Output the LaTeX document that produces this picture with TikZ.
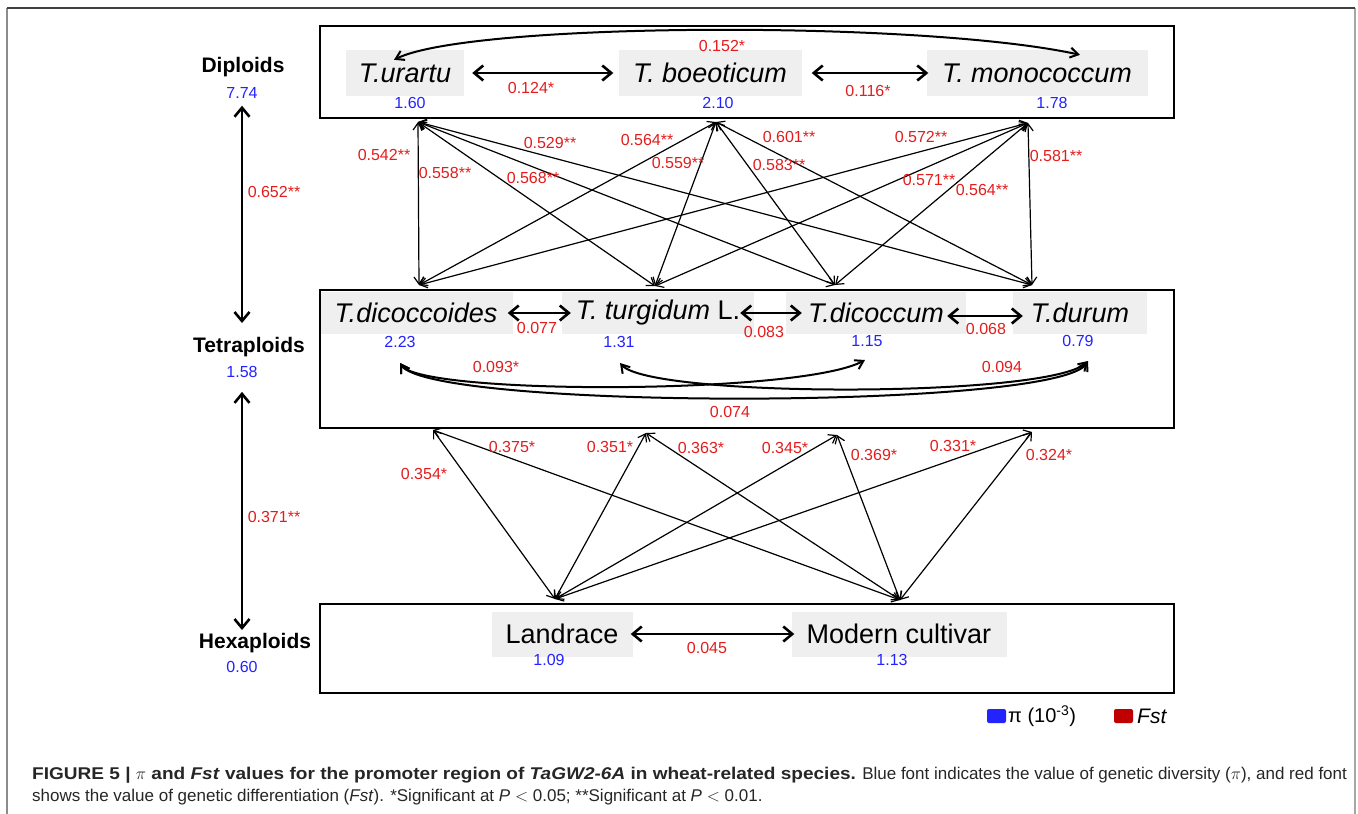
\documentclass[tikz,border=0pt]{standalone}
\usepackage{fontspec}
\setmainfont{Liberation Sans}
\usetikzlibrary{arrows.meta}

\definecolor{piblue}{RGB}{35,35,255}
\definecolor{fstred}{RGB}{228,28,28}
\definecolor{boxgray}{RGB}{239,239,239}
\definecolor{legred}{RGB}{192,0,0}

\begin{document}
\begin{tikzpicture}[x=1pt, y=-1pt,
  species/.style={fill=boxgray, inner sep=0pt, minimum height=46pt, font=\fontsize{27}{30}\selectfont\itshape},
  pival/.style={text=piblue, inner sep=0pt, font=\fontsize{16}{18}\selectfont},
  fstval/.style={text=fstred, inner sep=0pt, font=\fontsize{16}{18}\selectfont},
  ploidy/.style={inner sep=0pt, font=\fontsize{21}{24}\selectfont\bfseries},
  link/.style={line width=1.2pt, {Straight Barb[length=7pt,width=10pt]}-{Straight Barb[length=7pt,width=10pt]}},
  bigarrow/.style={line width=2.6pt, {Straight Barb[length=9pt,width=15pt]}-{Straight Barb[length=9pt,width=15pt]}},
  swoop/.style={line width=2pt, {Straight Barb[length=8pt,width=10pt]}-{Straight Barb[length=8pt,width=10pt]}},
  ploidybox/.style={line width=1.4pt},
  caption/.style={inner sep=0pt, text=black!85, font=\fontsize{17}{20}\selectfont}
]
\useasboundingbox (0,0) rectangle (1358,814);

% page frame
\draw[line width=1.5pt, black!45] (7,814) -- (7,8);
\draw[line width=1.5pt, black!35] (1355,8) -- (1355,814);
\draw[line width=2pt, black!75] (7,8) -- (1355,8);

% ploidy levels
\node[ploidy] (dipLab) at (243,67) {Diploids};
\node[pival] (dipPi) at (242,93) {7.74};
\node[ploidy] (tetLab) at (249,347) {Tetraploids};
\node[pival] (tetPi) at (242,372) {1.58};
\node[ploidy] (hexLab) at (255,643) {Hexaploids};
\node[pival] (hexPi) at (242,667) {0.60};

\draw[bigarrow, shorten <=7pt, shorten >=14pt] (dipPi.south) -- (dipPi.south |- tetLab.north);
\draw[bigarrow, shorten <=14pt, shorten >=3pt] (tetPi.south) -- (tetPi.south |- hexLab.north);
\node[fstval] at (274,192) {0.652**};
\node[fstval] at (274,517) {0.371**};

% diploids
\node[species, minimum width=118pt] (urartu) at (405,73) {T.urartu};
\node[species, minimum width=183pt] (boeoticum) at (710,73) {T. boeoticum};
\node[species, minimum width=221pt] (monococcum) at (1037,73) {T. monococcum};
\node[pival] (urPi) at (410,103) {1.60};
\node[pival] (boPi) at (718,103) {2.10};
\node[pival] (moPi) at (1052,103) {1.78};

% tetraploids
\node[species, minimum width=193pt, minimum height=42pt] (dicoccoides) at (416,313) {T.dicoccoides};
\node[species, minimum width=192pt, minimum height=42pt] (turgidum) at (658,313) {T. turgidum \upshape L.};
\node[species, minimum width=180pt, minimum height=42pt] (dicoccum) at (876,313) {T.dicoccum};
\node[species, minimum width=134pt, minimum height=42pt] (durum) at (1080,313) {T.durum};
\node[pival] (dicPi) at (400,342) {2.23};
\node[pival] (turPi) at (619,342) {1.31};
\node[pival] (dcmPi) at (867,341) {1.15};
\node[pival] (durPi) at (1078,341) {0.79};

% hexaploids
\node[species, minimum width=141pt, minimum height=45pt, font=\fontsize{27}{30}\selectfont] (landrace) at (562,634) {Landrace};
\node[species, minimum width=215pt, minimum height=45pt, font=\fontsize{27}{30}\selectfont] (modern) at (899,634) {Modern cultivar};
\node[pival] (lanPi) at (549,660) {1.09};
\node[pival] (modPi) at (892,660) {1.13};

% within-level arrows
\draw[bigarrow, shorten <=8pt, shorten >=5pt] (urartu.east) -- (boeoticum.west);
\draw[bigarrow, shorten <=10pt, shorten >=-2pt] (boeoticum.east) -- (monococcum.west);
\draw[bigarrow, shorten <=-5pt, shorten >=-9pt] (dicoccoides.east) -- (turgidum.west);
\draw[bigarrow, shorten <=-14pt, shorten >=-16pt] (turgidum.east) -- (dicoccum.west);
\draw[bigarrow, shorten <=-19pt, shorten >=-10pt] ([yshift=-3pt]dicoccum.east) -- ([yshift=-3pt]durum.west);
\draw[bigarrow, shorten <=-2pt, shorten >=-3pt] (landrace.east) -- (modern.west);
\node[fstval] at (531,88) {0.124*};
\node[fstval] at (868,91) {0.116*};
\node[fstval] at (537,328) {0.077};
\node[fstval] at (764,332) {0.083};
\node[fstval] at (986,329) {0.068};
\node[fstval] at (707,648) {0.045};

% curved arrows
\draw[swoop] ([xshift=-11pt, yshift=-10pt]urartu.north) .. controls (470,22) and (920,20) .. ([xshift=43pt, yshift=-5pt]monococcum.north);
\node[fstval] at (722,46) {0.152*};

\coordinate (dicC) at (400,363);
\coordinate (turC) at (620,363);
\coordinate (dcmC) at (865,360);
\coordinate (durC) at (1088,361);
\draw[swoop] (dicC) .. controls (420,395) and (800,395) .. (dcmC);
\draw[swoop] (dicC) .. controls (430,410) and (1060,410) .. (durC);
\draw[swoop] (turC) .. controls (650,398) and (1050,398) .. (durC);
\node[fstval] at (496,367) {0.093*};
\node[fstval] at (1002,367) {0.094};
\node[fstval] at (730,412) {0.074};

% ports between levels
\coordinate (urS) at (418,122);
\coordinate (boS) at (716,122);
\coordinate (moS) at (1028,123);
\coordinate (diN) at (419,285);
\coordinate (tuN) at (655,286);
\coordinate (dcN) at (835,285);
\coordinate (duN) at (1032,285);
\coordinate (diS) at (433,430);
\coordinate (tuS) at (646,433);
\coordinate (dcS) at (837,435);
\coordinate (duS) at (1032,432);
\coordinate (laN) at (555,599);
\coordinate (mcN) at (900,600);

\foreach \a in {urS,boS,moS}
  \foreach \b in {diN,tuN,dcN,duN}
    \draw[link] (\a) -- (\b);
\foreach \a in {diS,tuS,dcS,duS}
  \foreach \b in {laN,mcN}
    \draw[link] (\a) -- (\b);

\node[fstval] at (384,155) {0.542**};
\node[fstval] at (445,173) {0.558**};
\node[fstval] at (533,178) {0.568**};
\node[fstval] at (550,143) {0.529**};
\node[fstval] at (647,140) {0.564**};
\node[fstval] at (678,163) {0.559**};
\node[fstval] at (789,137) {0.601**};
\node[fstval] at (779,165) {0.583**};
\node[fstval] at (921,137) {0.572**};
\node[fstval] at (929,180) {0.571**};
\node[fstval] at (982,190) {0.564**};
\node[fstval] at (1056,156) {0.581**};

\node[fstval] at (424,474) {0.354*};
\node[fstval] at (512,447) {0.375*};
\node[fstval] at (610,447) {0.351*};
\node[fstval] at (701,448) {0.363*};
\node[fstval] at (785,448) {0.345*};
\node[fstval] at (874,455) {0.369*};
\node[fstval] at (953,446) {0.331*};
\node[fstval] at (1049,455) {0.324*};

% level boxes
\draw[ploidybox] (320,26) rectangle (1174,118);
\draw[ploidybox] (320,290) rectangle (1174,428);
\draw[ploidybox] (320,604) rectangle (1174,693);

% legend
\fill[piblue, rounded corners=2pt] (987,709) rectangle (1006,723);
\node[anchor=west, inner sep=0pt, font=\fontsize{20}{22}\selectfont] (piKey) at (1008,716) {π (10\textsuperscript{-3})};
\fill[legred, rounded corners=2pt] (1114,709) rectangle (1133,723);
\node[anchor=west, inner sep=0pt, font=\fontsize{21}{22}\selectfont\itshape] (fstKey) at (1137,716) {Fst};

% caption
\node[caption, anchor=west] (capOne) at (32,775) {{\bfseries\addfontfeature{FakeStretch=1.12}FIGURE 5 | $\pi$ and \textit{Fst} values for the promoter region of \textit{TaGW2-6A} in wheat-related species.} Blue font indicates the value of genetic diversity ($\pi$), and red font};
\node[caption, anchor=west] (capTwo) at (32,797) {shows the value of genetic differentiation (\textit{Fst}). *Significant at \textit{P} $<$ 0.05; **Significant at \textit{P} $<$ 0.01.};

\end{tikzpicture}
\end{document}
